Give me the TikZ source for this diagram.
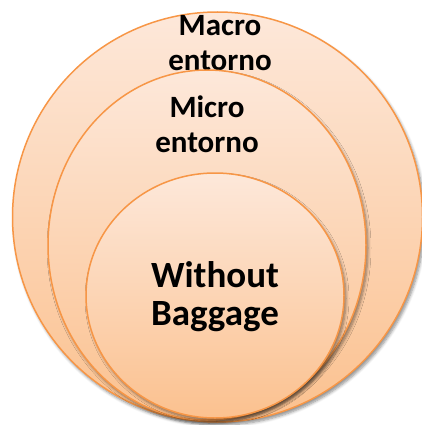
\documentclass[tikz,border=0pt]{standalone}
\usepackage{fontspec}
\setmainfont{Carlito}
\usetikzlibrary{shapes.geometric,shadows.blur}
\definecolor{ringline}{HTML}{F79646}
\definecolor{ringtop}{HTML}{FDE8DA}
\definecolor{ringbottom}{HTML}{FBC18F}
\tikzset{
  ring/.style={ellipse, draw=ringline, line width=1.5pt, inner sep=0pt,
    top color=ringtop, bottom color=ringbottom,
    blur shadow={shadow xshift=2pt, shadow yshift=-3pt, shadow blur steps=6,
      shadow blur radius=3pt, shadow opacity=45}},
  label/.style={align=center, font=\bfseries\fontsize{31}{35}\selectfont, inner sep=0pt},
  biglabel/.style={align=center, font=\bfseries\fontsize{37}{38}\selectfont, inner sep=0pt}
}
\begin{document}
\begin{tikzpicture}[x=1pt,y=-1pt]
  \useasboundingbox (0,0) rectangle (422,425);
  % outer ring and its caption (anchor sits on the last line's baseline)
  \node[ring, minimum width=410pt, minimum height=410pt] (macro) at (217.5,217) {};
  \node[label, anchor=base] (macrotxt) at (220,71) {Macro\\entorno};
  % middle ring
  \node[ring, minimum width=318pt, minimum height=350pt] (micro) at (207,245) {};
  \node[label, anchor=base] (microtxt) at (207,152) {Micro\\entorno};
  % inner ring
  \node[ring, minimum width=258pt, minimum height=245pt] (core) at (215,295.5) {};
  \node[biglabel, anchor=base] (coretxt) at (215,325) {Without\\Baggage};
\end{tikzpicture}
\end{document}
